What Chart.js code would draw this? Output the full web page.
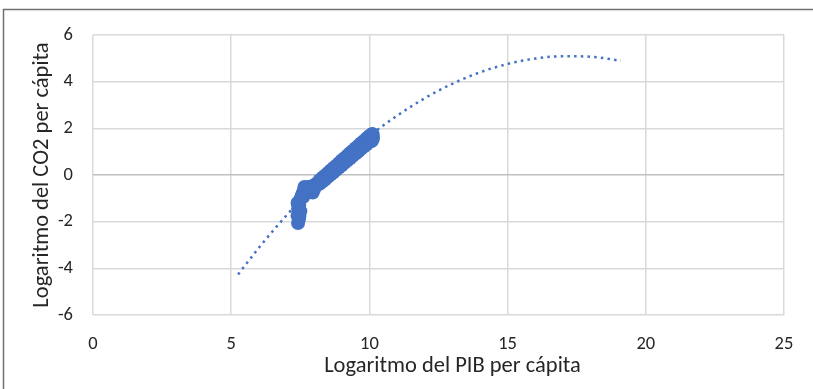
<!DOCTYPE html>
<html>
<head>
<meta charset="utf-8">
<script src="https://cdn.jsdelivr.net/npm/chart.js@4.4.1/dist/chart.umd.min.js"></script>
<style>
  html, body { margin: 0; padding: 0; background: #fff; }
  #wrap { width: 813px; height: 389px; position: relative; }
</style>
</head>
<body>
<div id="wrap"><canvas id="chart" width="813" height="389"></canvas></div>
<script>
// observed points (log GDP per capita, log CO2 per capita)
const pibX = [
  7.42, 7.45, 7.40, 7.44, 7.42, 7.46, 7.40, 7.48, 7.52, 7.55, 7.50, 7.47,
  7.58, 7.62, 7.65, 7.60, 7.95, 7.70, 7.80, 7.90, 8.00,
  7.65, 7.75, 7.85, 7.95, 8.05,
  8.2, 8.2, 8.2, 8.3, 8.3, 8.3, 8.4, 8.4, 8.4, 8.5, 8.5, 8.5, 8.6, 8.6, 8.6,
  8.7, 8.7, 8.7, 8.8, 8.8, 8.8, 8.9, 8.9, 8.9, 9.0, 9.0, 9.0, 9.1, 9.1, 9.1,
  9.2, 9.2, 9.2, 9.3, 9.3, 9.3, 9.4, 9.4, 9.4, 9.5, 9.5, 9.5, 9.6, 9.6, 9.6,
  9.7, 9.7, 9.7, 9.8, 9.8, 9.8, 9.9, 9.9, 9.9, 10.0, 10.0, 10.0, 10.1, 10.1, 10.1,
  10.12, 10.13, 10.08
];
const co2Y = [
  -2.06, -1.90, -1.75, -1.60, -1.45, -1.30, -1.20, -1.10, -1.00, -0.90, -1.55, -1.75,
  -0.80, -0.70, -0.60, -0.95, -0.75, -0.70, -0.72, -0.65, -0.60,
  -0.51, -0.52, -0.50, -0.48, -0.40,
  -0.22, -0.30, -0.38, -0.12, -0.20, -0.28, -0.02, -0.10, -0.18, 0.09, 0.00, -0.08, 0.19, 0.10, 0.02,
  0.30, 0.21, 0.12, 0.40, 0.31, 0.22, 0.51, 0.41, 0.32, 0.62, 0.52, 0.42, 0.72, 0.62, 0.52,
  0.83, 0.73, 0.62, 0.94, 0.83, 0.72, 1.04, 0.93, 0.82, 1.15, 1.04, 0.92, 1.25, 1.14, 1.02,
  1.36, 1.24, 1.12, 1.46, 1.35, 1.22, 1.57, 1.45, 1.32, 1.67, 1.55, 1.42, 1.76, 1.62, 1.50,
  1.74, 1.58, 1.45
];

// polynomial trendline
const trendX = [5.25, 6, 7, 8, 9, 10, 11, 12, 13, 14, 15, 16, 17, 18, 19, 19.1];
const trendY = [-4.26, -3.12, -1.73, -0.47, 0.66, 1.67, 2.54, 3.29, 3.91, 4.40, 4.76, 4.99, 5.09, 5.07, 4.91, 4.89];

const xTitle = 'Logaritmo del PIB per cápita';
const yTitle = 'Logaritmo del CO2 per cápita';

const blue = '#4472C4';
const font = "Carlito, Lato, 'Liberation Sans', sans-serif";
const textColor = '#262626';

const points = pibX.map((x, i) => ({ x: x, y: co2Y[i] }));
const trend = trendX.map((x, i) => ({ x: x, y: trendY[i] }));

// outer frame (top and left edges only) plus the x title, which sits a bit right of centre
const frame = {
  id: 'frame',
  beforeDraw(chart) {
    const ctx = chart.ctx;
    ctx.save();
    ctx.fillStyle = '#fff';
    ctx.fillRect(0, 0, chart.width, chart.height);
    ctx.strokeStyle = '#6f6f6f';
    ctx.lineWidth = 1.5;
    ctx.beginPath();
    ctx.moveTo(3.5, chart.height);
    ctx.lineTo(3.5, 9.5);
    ctx.lineTo(chart.width, 9.5);
    ctx.stroke();
    ctx.restore();
  },
  afterDraw(chart) {
    const ctx = chart.ctx;
    const area = chart.chartArea;
    ctx.save();
    ctx.font = '22.5px ' + font;
    ctx.fillStyle = textColor;
    ctx.textAlign = 'center';
    ctx.textBaseline = 'alphabetic';
    ctx.fillText(xTitle, (area.left + area.right) / 2 + 14, 372);
    ctx.restore();
  }
};

new Chart(document.getElementById('chart'), {
  type: 'scatter',
  data: {
    datasets: [{
      label: 'trend',
      type: 'line',
      data: trend,
      showLine: true,
      borderColor: blue,
      borderWidth: 2.5,
      borderDash: [2.5, 4.2],
      cubicInterpolationMode: 'monotone',
      pointRadius: 0,
      fill: false,
      order: 0,
    }, {
      label: 'datos',
      data: points,
      backgroundColor: blue,
      borderWidth: 0,
      pointRadius: 7,
      order: 1,
    }],
  },
  options: {
    responsive: false,
    animation: false,
    layout: { padding: { top: 35, right: 29, bottom: 0, left: 0 } },
    plugins: { legend: { display: false }, tooltip: { enabled: false } },
    scales: {
      x: {
        type: 'linear',
        min: 0,
        max: 25,
        afterFit: (s) => { s.height = 74; },
        ticks: { stepSize: 5, padding: 18, color: textColor, font: { family: font, size: 18.5 } },
        grid: { color: '#d9d9d9', lineWidth: 1.5, drawTicks: false },
        border: { display: false },
        title: { display: false },
      },
      y: {
        type: 'linear',
        min: -6,
        max: 6,
        afterFit: (s) => { s.width = 93; },
        ticks: { stepSize: 2, padding: 20, color: textColor, font: { family: font, size: 18.5 } },
        grid: {
          color: (c) => c.tick && c.tick.value === 0 ? '#bfbfbf' : '#d9d9d9',
          lineWidth: 1.5,
          drawTicks: false,
        },
        border: { display: false },
        title: { display: true, text: yTitle, color: textColor, font: { family: font, size: 22.5 }, padding: { top: 29 } },
      },
    },
  },
  plugins: [frame],
});
</script>
</body>
</html>
